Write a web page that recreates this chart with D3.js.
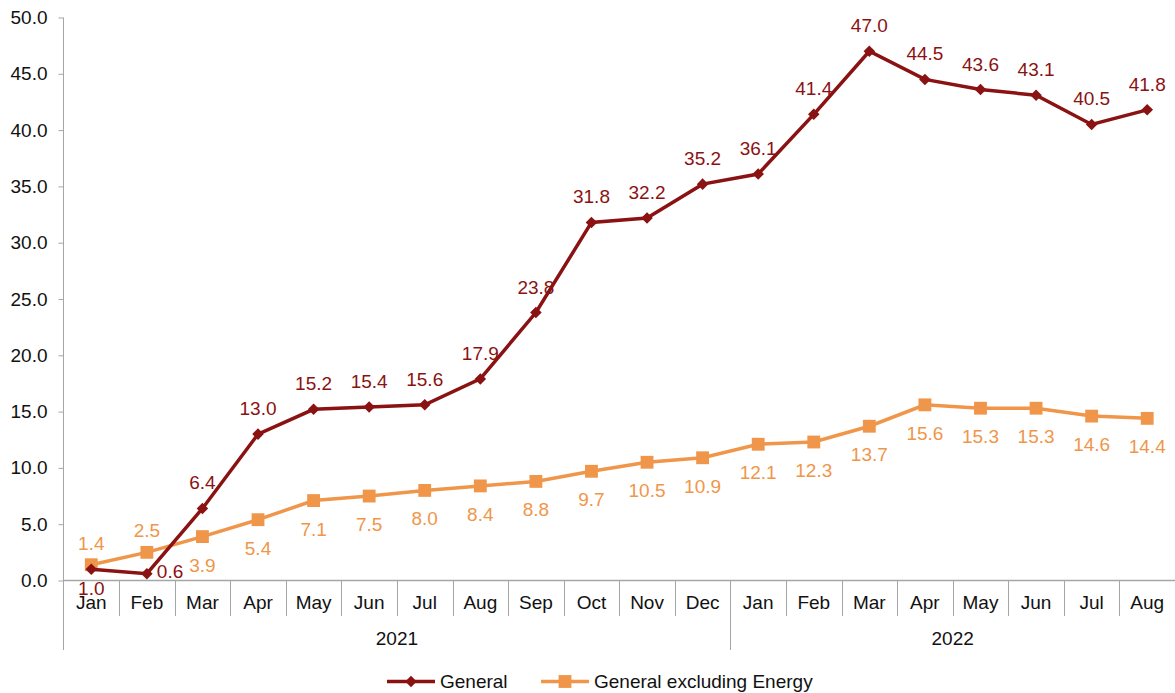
<!DOCTYPE html>
<html>
<head>
<meta charset="utf-8">
<script src="https://cdn.jsdelivr.net/npm/d3@7"></script>
<style>
  body { margin: 0; background: #fff; }
  svg { font-family: "Liberation Sans", Arial, sans-serif; }
</style>
</head>
<body>
<svg id="chart" width="1175" height="693"></svg>
<script>
// data
const months = ['Jan','Feb','Mar','Apr','May','Jun','Jul','Aug','Sep','Oct','Nov','Dec',
                'Jan','Feb','Mar','Apr','May','Jun','Jul','Aug'];
const years = [{ label: '2021', from: 0, to: 12 }, { label: '2022', from: 12, to: 20 }];
const general = [1.0, 0.6, 6.4, 13.0, 15.2, 15.4, 15.6, 17.9, 23.8, 31.8, 32.2, 35.2,
                 36.1, 41.4, 47.0, 44.5, 43.6, 43.1, 40.5, 41.8];
const exEnergy = [1.4, 2.5, 3.9, 5.4, 7.1, 7.5, 8.0, 8.4, 8.8, 9.7, 10.5, 10.9,
                  12.1, 12.3, 13.7, 15.6, 15.3, 15.3, 14.6, 14.4];
const yTicks = [0, 5, 10, 15, 20, 25, 30, 35, 40, 45, 50];

const red = '#8b1212', orange = '#f0964a', grey = '#a6a6a6';
const fs = 19;
const svg = d3.select('#chart');

const mLeft = 63.5, mRight = 1175, mTop = 17.5, mBottom = 580.5;
const x = d3.scaleBand().domain(d3.range(months.length)).range([mLeft, mRight]);
const y = d3.scaleLinear().domain([0, 50]).range([mBottom, mTop]);
const cx = i => x(i) + x.bandwidth() / 2;

// y axis
const yAxis = svg.append('g').attr('transform', `translate(${mLeft},0)`)
    .call(d3.axisLeft(y).tickValues(yTicks).tickFormat(d3.format('.1f')).tickSize(5).tickPadding(11));
yAxis.select('.domain').remove();
yAxis.selectAll('line').attr('stroke', grey);
yAxis.selectAll('text').attr('font-size', fs).attr('fill', '#111');
svg.append('line').attr('x1', mLeft).attr('x2', mLeft).attr('y1', mTop).attr('y2', 650)
    .attr('stroke', grey);

// category axis
svg.append('line').attr('x1', mLeft).attr('x2', mRight).attr('y1', mBottom).attr('y2', mBottom)
    .attr('stroke', grey).attr('stroke-width', 1.5);
svg.append('g').selectAll('line').data(d3.range(1, months.length + 1)).join('line')
    .attr('x1', i => Math.round(x(i - 1) + x.bandwidth()) + 0.5)
    .attr('x2', i => Math.round(x(i - 1) + x.bandwidth()) + 0.5)
    .attr('y1', mBottom).attr('y2', i => (years.some(yr => yr.from === i) ? 650 : 616))
    .attr('stroke', grey);
svg.append('g').selectAll('text').data(months).join('text')
    .attr('x', (d, i) => cx(i)).attr('y', 609).attr('text-anchor', 'middle')
    .attr('font-size', fs).attr('fill', '#111').text(d => d);
svg.append('g').selectAll('text').data(years).join('text')
    .attr('x', d => (x(d.from) + (d.to < months.length ? x(d.to) : mRight)) / 2)
    .attr('y', 645).attr('text-anchor', 'middle')
    .attr('font-size', fs).attr('fill', '#111').text(d => d.label);

const line = d3.line().x((d, i) => cx(i)).y(d => y(d));
const diamond = d3.symbol().type(d3.symbolDiamond2).size(85);
const square = d3.symbol().type(d3.symbolSquare).size(165);

// General excluding Energy
svg.append('path').datum(exEnergy).attr('d', line)
    .attr('fill', 'none').attr('stroke', orange).attr('stroke-width', 3.5);
svg.append('g').selectAll('path').data(exEnergy).join('path')
    .attr('d', square).attr('fill', orange)
    .attr('transform', (d, i) => `translate(${cx(i)},${y(d)})`);

// General
svg.append('path').datum(general).attr('d', line)
    .attr('fill', 'none').attr('stroke', red).attr('stroke-width', 3.5);
svg.append('g').selectAll('path').data(general).join('path')
    .attr('d', diamond).attr('fill', red)
    .attr('transform', (d, i) => `translate(${cx(i)},${y(d)})`);

// labels
svg.append('g').selectAll('text').data(exEnergy).join('text')
    .attr('x', (d, i) => cx(i))
    .attr('y', (d, i) => i < 2 ? y(d) - 15 : y(d) + 35)
    .attr('text-anchor', 'middle').attr('font-size', fs).attr('fill', orange)
    .text(d => d.toFixed(1));
svg.append('g').selectAll('text').data(general).join('text')
    .attr('x', (d, i) => i === 1 ? cx(i) + 10 : cx(i))
    .attr('y', (d, i) => i === 0 ? y(d) + 26 : i === 1 ? y(d) + 4 : y(d) - 19)
    .attr('text-anchor', (d, i) => i === 1 ? 'start' : 'middle')
    .attr('font-size', fs).attr('fill', red)
    .text(d => d.toFixed(1));

// legend
const lg = svg.append('g').attr('transform', 'translate(0,681.5)');
lg.append('line').attr('x1', 387).attr('x2', 435).attr('stroke', red).attr('stroke-width', 3.5);
lg.append('path').attr('d', diamond).attr('fill', red).attr('transform', 'translate(411,0)');
lg.append('text').attr('x', 440).attr('y', 6).attr('font-size', fs).attr('fill', '#111').text('General');
lg.append('line').attr('x1', 541).attr('x2', 589).attr('stroke', orange).attr('stroke-width', 3.5);
lg.append('path').attr('d', square).attr('fill', orange).attr('transform', 'translate(565,0)');
lg.append('text').attr('x', 594).attr('y', 6).attr('font-size', fs).attr('fill', '#111').text('General excluding Energy');
</script>
</body>
</html>
